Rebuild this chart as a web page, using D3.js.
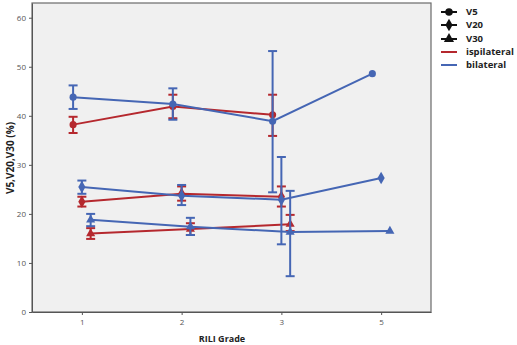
<!DOCTYPE html>
<html>
<head>
<meta charset="utf-8">
<script src="https://cdn.jsdelivr.net/npm/d3@7"></script>
<style>
  body { margin: 0; background: #fff; }
  svg text { font-family: "Open Sans", "DejaVu Sans", sans-serif; }
</style>
</head>
<body>
<div class="canvas"></div>
<script>
// categories
const grades = ['1', '2', '3', '5'];
const measures = ['V5', 'V20', 'V30'];
const yTicks = [0, 10, 20, 30, 40, 50, 60];

// ipsilateral means and error bar ends (null = no data)
const ipsiV5 = [38.2, 41.9, 40.2, null];
const ipsiV5Lo = [36.5, 39.5, 35.9, null];
const ipsiV5Hi = [39.8, 44.3, 44.3, null];
const ipsiV20 = [22.5, 24.1, 23.5, null];
const ipsiV20Lo = [21.5, 22.7, 21.5, null];
const ipsiV20Hi = [23.5, 25.6, 25.6, null];
const ipsiV30 = [16.0, 16.9, 17.9, null];
const ipsiV30Lo = [14.9, 15.7, 16.5, null];
const ipsiV30Hi = [17.1, 18.1, 19.8, null];

// bilateral means and error bar ends
const biV5 = [43.8, 42.4, 38.9, 48.6];
const biV5Lo = [41.4, 39.2, 24.4, null];
const biV5Hi = [46.2, 45.6, 53.2, null];
const biV20 = [25.5, 23.7, 22.9, 27.3];
const biV20Lo = [24.1, 21.8, 13.8, null];
const biV20Hi = [26.8, 25.9, 31.6, null];
const biV30 = [18.8, 17.4, 16.3, 16.5];
const biV30Lo = [17.5, 15.7, 7.3, null];
const biV30Hi = [20.0, 19.2, 24.7, null];

const red = '#b5282e';
const blue = '#4566b4';

// build series from the arrays
const series = [
    { group: 'ipsilateral', color: red, m: 'V5', mean: ipsiV5, lo: ipsiV5Lo, hi: ipsiV5Hi },
    { group: 'ipsilateral', color: red, m: 'V20', mean: ipsiV20, lo: ipsiV20Lo, hi: ipsiV20Hi },
    { group: 'ipsilateral', color: red, m: 'V30', mean: ipsiV30, lo: ipsiV30Lo, hi: ipsiV30Hi },
    { group: 'bilateral', color: blue, m: 'V5', mean: biV5, lo: biV5Lo, hi: biV5Hi },
    { group: 'bilateral', color: blue, m: 'V20', mean: biV20, lo: biV20Lo, hi: biV20Hi },
    { group: 'bilateral', color: blue, m: 'V30', mean: biV30, lo: biV30Lo, hi: biV30Hi }
];

const svg = d3.select('.canvas')
    .append('svg')
    .attr('width', 517)
    .attr('height', 345);

const margin = { top: 3, left: 32 };
const graphWidth = 399;
const graphHeight = 309;

const graph = svg.append('g')
    .attr('transform', `translate(${margin.left},${margin.top})`);

graph.append('rect')
    .attr('width', graphWidth)
    .attr('height', graphHeight)
    .attr('fill', '#f0f0f0')
    .attr('stroke', '#6a6a6a')
    .attr('stroke-width', 1.2);

const x = d3.scalePoint()
    .domain(grades)
    .range([0, graphWidth])
    .padding(0.5);

const y = d3.scaleLinear()
    .domain([0, 63])
    .range([graphHeight, 0]);

// small sideways shift so the three measures don't overlap
const dodge = d3.scalePoint()
    .domain(measures)
    .range([-x.step() * 0.088, x.step() * 0.088]);

const px = (s, i) => x(grades[i]) + dodge(s.m);

// axes
const xAxis = d3.axisBottom(x).tickSize(3).tickSizeOuter(0);
const yAxis = d3.axisLeft(y).tickValues(yTicks).tickSize(3).tickSizeOuter(0);

const xAxisGroup = graph.append('g')
    .attr('transform', `translate(0,${graphHeight})`)
    .call(xAxis);
const yAxisGroup = graph.append('g').call(yAxis);

[xAxisGroup, yAxisGroup].forEach(g => {
    g.select('.domain').attr('stroke', '#555');
    g.selectAll('.tick line').attr('stroke', '#555');
    g.selectAll('.tick text')
        .attr('fill', '#555')
        .style('font-size', '8px');
});
xAxisGroup.selectAll('.tick text').attr('dy', '0.9em');

// markers
const symbolFor = {
    V5: d3.symbolCircle,
    V20: d3.symbolDiamond,
    V30: d3.symbolTriangle
};
const sizeFor = { V5: 40, V20: 45, V30: 36 };

const line = d3.line()
    .defined(d => d.v !== null)
    .x(d => d.x)
    .y(d => y(d.v));

series.forEach(s => {
    const pts = s.mean.map((v, i) => ({ v: v, lo: s.lo[i], hi: s.hi[i], x: px(s, i) }))
        .filter(d => d.v !== null);

    const g = graph.append('g');

    g.append('path')
        .datum(pts)
        .attr('fill', 'none')
        .attr('stroke', s.color)
        .attr('stroke-width', 2)
        .attr('d', line);

    const bars = g.selectAll('.err')
        .data(pts.filter(d => d.lo !== null))
        .enter()
        .append('g')
        .attr('stroke', s.color)
        .attr('stroke-width', 2);

    bars.append('line')
        .attr('x1', d => d.x).attr('x2', d => d.x)
        .attr('y1', d => y(d.lo)).attr('y2', d => y(d.hi));
    bars.append('line')
        .attr('x1', d => d.x - 4.5).attr('x2', d => d.x + 4.5)
        .attr('y1', d => y(d.lo)).attr('y2', d => y(d.lo));
    bars.append('line')
        .attr('x1', d => d.x - 4.5).attr('x2', d => d.x + 4.5)
        .attr('y1', d => y(d.hi)).attr('y2', d => y(d.hi));

    g.selectAll('.pt')
        .data(pts)
        .enter()
        .append('path')
        .attr('d', d3.symbol().type(symbolFor[s.m]).size(sizeFor[s.m]))
        .attr('transform', d => `translate(${d.x},${y(d.v)})`)
        .attr('fill', s.color);
});

// axis titles
svg.append('text')
    .attr('transform', `translate(14,${margin.top + 155}) rotate(-90)`)
    .attr('text-anchor', 'middle')
    .style('font-size', '10px')
    .style('font-weight', 'bold')
    .attr('fill', '#222')
    .text('V5,V20,V30 (%)');

svg.append('text')
    .attr('x', 222)
    .attr('y', 342)
    .attr('text-anchor', 'middle')
    .style('font-size', '9px')
    .style('font-weight', 'bold')
    .attr('fill', '#222')
    .text('RILI Grade');

// legend
const legendItems = [
    { label: 'V5', color: '#111', sym: 'V5' },
    { label: 'V20', color: '#111', sym: 'V20' },
    { label: 'V30', color: '#111', sym: 'V30' },
    { label: 'ispilateral', color: red, sym: null },
    { label: 'bilateral', color: blue, sym: null }
];
const legendY = [12, 25, 39, 52, 65];

const legend = svg.append('g');
legendItems.forEach((d, i) => {
    const row = legend.append('g').attr('transform', `translate(441,${legendY[i]})`);
    row.append('line')
        .attr('x1', 0).attr('x2', 16)
        .attr('stroke', d.color)
        .attr('stroke-width', 2);
    if (d.sym) {
        row.append('path')
            .attr('d', d3.symbol().type(symbolFor[d.sym]).size(45))
            .attr('transform', 'translate(8,0)')
            .attr('fill', d.color);
    }
    row.append('text')
        .attr('x', 25)
        .attr('dy', '0.35em')
        .style('font-size', '9.5px')
        .style('font-weight', 'bold')
        .attr('fill', '#222')
        .text(d.label);
});
</script>
</body>
</html>
